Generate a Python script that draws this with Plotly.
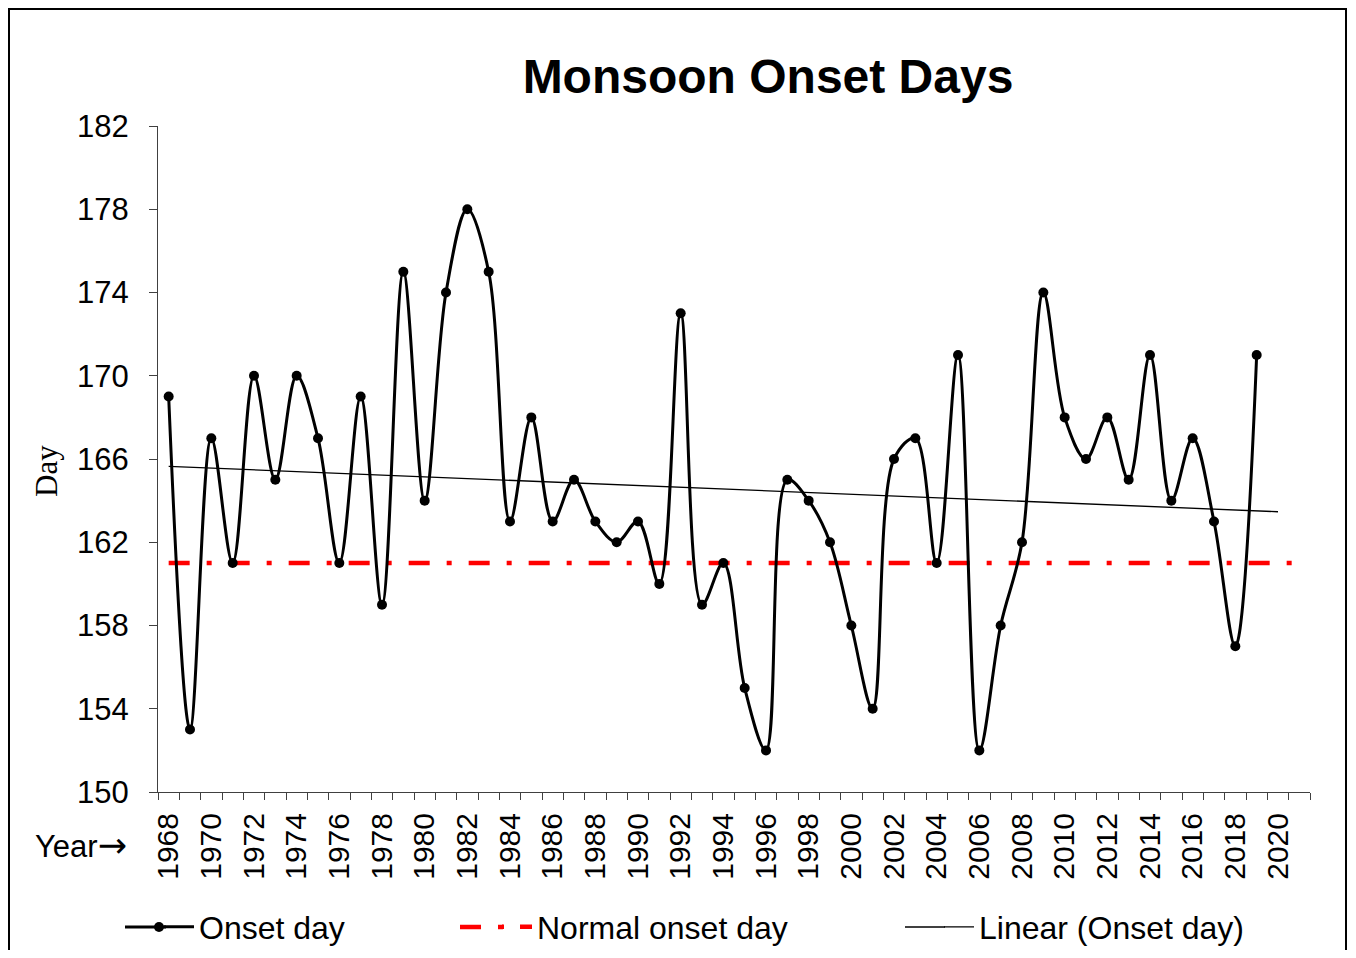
import numpy as np
import plotly.graph_objects as go

years = list(range(1968, 2020))
onset_day = [169, 153, 167, 161, 170, 165, 170, 167, 161, 169,
             159, 175, 164, 174, 178, 175, 163, 168, 163, 165,
             163, 162, 163, 160, 173, 159, 161, 155, 152, 165,
             164, 162, 158, 154, 166, 167, 161, 171, 152, 158,
             162, 174, 168, 166, 168, 165, 171, 164, 167, 163,
             157, 171]
normal_onset = 161
normal_years = [1968, 2021]
trend_years = [1968, 2020]
tick_years = list(range(1968, 2021, 2))
y_ticks = list(range(150, 183, 4))

coef = np.polyfit(years, onset_day, 1)
trend_vals = list(np.polyval(coef, trend_years))

FONT = "Arial, Liberation Sans, sans-serif"
OFF = 8  # page body margin

W, H = 1340, 942
L = 158 - OFF
T = 126 - OFF
R = W - (1310 - OFF)
B = H - (792 - OFF)
pw, ph = W - L - R, H - T - B


def px(x):
    return (x - OFF - L) / pw


def py(y):
    return (H - B - (y - OFF)) / ph


def cx(x):
    return (x - OFF) / W


def cy(y):
    return 1 - (y - OFF) / H


RED = "#ff0000"
LEG_Y = 927

fig = go.Figure()
fig.add_trace(go.Scatter(
    x=normal_years, y=[normal_onset] * len(normal_years), mode="lines",
    name="Normal onset day", showlegend=False,
    line=dict(color=RED, width=4.5, dash="21px,17px,5px,17px")))
fig.add_trace(go.Scatter(
    x=trend_years, y=trend_vals, mode="lines", name="Linear (Onset day)",
    line=dict(color="black", width=1.3), legend="legend3", showlegend=True))
fig.add_trace(go.Scatter(
    x=years, y=onset_day, mode="lines+markers", name="Onset day",
    showlegend=False,
    line=dict(color="black", width=3, shape="spline", smoothing=1.0),
    marker=dict(color="black", size=10)))
# legend keys
fig.add_trace(go.Scatter(
    x=[None], y=[None], mode="lines", name="Onset day",
    line=dict(color="black", width=3), legend="legend", showlegend=True))
fig.add_trace(go.Scatter(
    x=[None], y=[None], mode="lines", name="Normal onset day",
    line=dict(color=RED, width=4.5, dash="2px,16px,12px,100px"),
    legend="legend2", showlegend=True))

leg_common = dict(orientation="h", yanchor="middle", xanchor="left",
                  xref="container", yref="container",
                  font=dict(family=FONT, size=32, color="black"),
                  bgcolor="rgba(0,0,0,0)")


def hline(x0, x1, color, width):
    return dict(type="line", xref="paper", yref="paper",
                x0=px(x0), x1=px(x1), y0=py(LEG_Y), y1=py(LEG_Y),
                line=dict(color=color, width=width))


ry = 5 / ph
rx = 5 / pw
shapes = [
    dict(type="rect", xref="paper", yref="paper",
         x0=px(9), x1=px(1346), y0=py(975), y1=py(9),
         line=dict(color="black", width=2), fillcolor="rgba(0,0,0,0)",
         layer="below"),
    hline(125, 166, "black", 3),
    dict(type="circle", xref="paper", yref="paper",
         x0=px(159) - rx, x1=px(159) + rx, y0=py(LEG_Y) - ry,
         y1=py(LEG_Y) + ry, fillcolor="black", line=dict(width=0)),
    hline(460, 481, RED, 4.5),
    hline(498, 503, RED, 4.5),
    hline(905, 945, "black", 1.3),
]

fig.update_layout(
    width=W, height=H,
    margin=dict(l=L, r=R, t=T, b=B, autoexpand=False),
    paper_bgcolor="white", plot_bgcolor="white",
    font=dict(family=FONT, color="black"),
    showlegend=True,
    title=dict(text="<b>Monsoon Onset Days</b>", xref="container",
               yref="container", x=cx(768), xanchor="center",
               y=cy(76), yanchor="middle",
               font=dict(family=FONT, size=48, color="black")),
    xaxis=dict(range=[1967.5, 2021.5], tickvals=tick_years,
               ticktext=[str(t) for t in tick_years], tickangle=-90,
               ticks="outside", ticklen=8, tickcolor="rgba(0,0,0,0)",
               tickfont=dict(family=FONT, size=30, color="black"),
               showline=True, linecolor="#404040", linewidth=1,
               showgrid=False, zeroline=False,
               minor=dict(ticks="outside", ticklen=7, tick0=1967.5, dtick=1,
                          tickcolor="#404040", showgrid=False)),
    yaxis=dict(range=[150, 182], tickvals=y_ticks, ticks="outside",
               ticklen=8, tickcolor="#404040",
               tickfont=dict(family=FONT, size=31, color="black"),
               ticklabelstandoff=14,
               showline=True, linecolor="#404040", linewidth=1,
               showgrid=False, zeroline=False),
    legend=dict(x=cx(159), y=cy(LEG_Y), **leg_common),
    legend2=dict(x=cx(497), y=cy(LEG_Y), **leg_common),
    legend3=dict(x=cx(939), y=cy(LEG_Y), **leg_common),
    annotations=[
        dict(text="Day", textangle=-90, x=px(46), y=py(471), xref="paper",
             yref="paper", showarrow=False, xanchor="center", yanchor="middle",
             font=dict(family="Times New Roman, Liberation Serif, serif",
                       size=31, color="black")),
        dict(text="Year<span style=\"font-family:DejaVu Sans;font-size:35px\">\u2192</span>",
             x=px(129), y=py(845), xref="paper",
             yref="paper", showarrow=False, xanchor="right", yanchor="middle",
             font=dict(family=FONT, size=31, color="black")),
    ],
    shapes=shapes,
)

fig.write_html("out.html")
